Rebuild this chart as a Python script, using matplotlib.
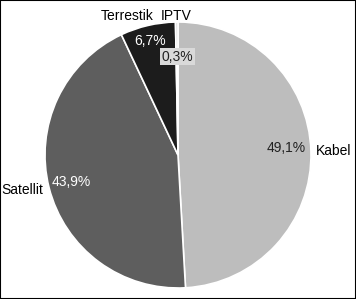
import matplotlib
matplotlib.use('Agg')
from matplotlib import pyplot as plt
from matplotlib.patches import Rectangle

# data
labels = ['Kabel', 'Satellit', 'Terrestik', 'IPTV']
shares = [49.1, 43.9, 6.7, 0.3]
pct_text = ['49,1%', '43,9%', '6,7%', '0,3%']
colors = ['#bdbdbd', '#5e5e5e', '#1c1c1c', '#d9d9d9']

plt.rcParams['font.family'] = ['Liberation Sans', 'DejaVu Sans']

fig = plt.figure(figsize=(3.56, 2.99), dpi=100)
ax = fig.add_axes([45 / 356, 11 / 299, 266 / 356, 266 / 299])

wedges, texts = ax.pie(shares, colors=colors, startangle=90, counterclock=False,
                       radius=1, wedgeprops=dict(edgecolor='white', linewidth=1.2))
ax.set_xlim(-1, 1)
ax.set_ylim(-1, 1)
ax.set_aspect('auto')
ax.axis('off')

fs = 10
# percentage labels (positions in radius units)
ax.text(0.81, 0.05, pct_text[0], ha='center', va='center', fontsize=fs, color='#222222')
ax.text(-0.80, -0.20, pct_text[1], ha='center', va='center', fontsize=fs, color='white')
ax.text(-0.21, 0.86, pct_text[2], ha='center', va='center', fontsize=fs, color='white')
ax.text(-0.005, 0.74, pct_text[3], ha='center', va='center', fontsize=fs, color='#222222',
        bbox=dict(boxstyle='square,pad=0.1', facecolor='#d9d9d9', edgecolor='none'))

# category labels
ax.text(1.04, 0.03, labels[0], ha='left', va='center', fontsize=fs, color='black')
ax.text(-1.015, -0.26, labels[1], ha='right', va='center', fontsize=fs, color='black')
ax.text(-0.38, 1.045, labels[2], ha='center', va='center', fontsize=fs, color='black')
ax.text(-0.01, 1.045, labels[3], ha='center', va='center', fontsize=fs, color='black')

fig.patches.append(Rectangle((0, 0), 1, 1, transform=fig.transFigure, fill=False,
                             edgecolor='black', linewidth=1.5))

plt.savefig('out.png', dpi=100)
